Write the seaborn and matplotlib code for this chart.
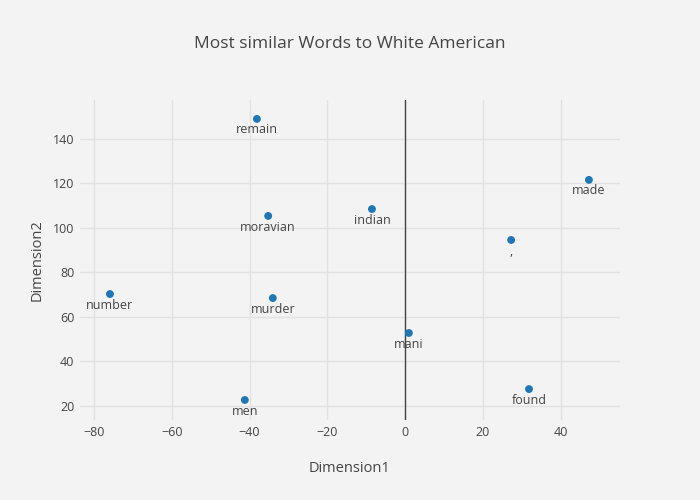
import matplotlib
matplotlib.use('Agg')
import matplotlib.pyplot as plt
import seaborn as sns
import pandas as pd

# Word embedding coordinates
words = ['remain', 'made', 'indian', 'moravian', ',', 'number', 'murder', 'mani', 'found', 'men']
dim1 = [-38.1, 47.3, -8.5, -35.2, 27.3, -75.9, -34.0, 1.0, 31.9, -41.2]
dim2 = [149.0, 121.6, 108.5, 105.4, 94.6, 70.3, 68.5, 52.8, 27.6, 22.7]

x_ticks = [-80, -60, -40, -20, 0, 20, 40]
y_ticks = [20, 40, 60, 80, 100, 120, 140]

df = pd.DataFrame({'word': words, 'Dimension1': dim1, 'Dimension2': dim2})

bg = '#f3f3f3'
sns.set_theme(style='whitegrid', rc={
    'figure.facecolor': bg,
    'axes.facecolor': bg,
    'grid.color': '#e2e2e2',
    'grid.linewidth': 1.0,
    'axes.edgecolor': bg,
})
plt.rcParams['font.family'] = ['Open Sans', 'DejaVu Sans']
text_col = '#444444'

fig = plt.figure(figsize=(7, 5), dpi=100)
ax = fig.add_axes([80 / 700, 80 / 500, 540 / 700, 320 / 500])

ax.axvline(0, color='#444444', linewidth=1.0, zorder=1)
sns.scatterplot(data=df, x='Dimension1', y='Dimension2', ax=ax, color='#1f77b4',
                s=32, edgecolor='none', zorder=3)

# labels sit below each point ("bottom center")
for w, xv, yv in zip(df['word'], df['Dimension1'], df['Dimension2']):
    ax.annotate(w, (xv, yv), xytext=(0, -10.5), textcoords='offset points',
                ha='center', va='baseline', fontsize=9, color=text_col)

ax.set_xlim(-83.6, 55.3)
ax.set_ylim(13.7, 157.5)
ax.set_xticks(x_ticks)
ax.set_yticks(y_ticks)
ax.set_xticklabels(['\u2212' + str(-t) if t < 0 else str(t) for t in x_ticks])
ax.tick_params(axis='both', labelsize=9, colors=text_col, length=0, pad=4)
for s in ax.spines.values():
    s.set_visible(False)

ax.set_xlabel('Dimension1', fontsize=10.5, color=text_col, labelpad=16)
ax.set_ylabel('Dimension2', fontsize=10.5, color=text_col, labelpad=6)
fig.text(0.5, 1 - 44 / 500, 'Most similar Words to White American', ha='center', va='center',
         fontsize=12.5, color=text_col)

fig.savefig('out.png', dpi=100, facecolor=bg)
